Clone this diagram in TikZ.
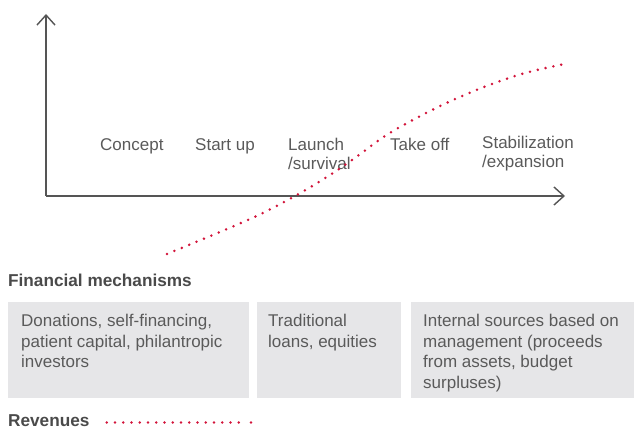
\documentclass[tikz,border=0pt]{standalone}
\usepackage{fontspec}
\setmainfont{Liberation Sans}
\usepackage{xcolor}
\usepackage{tikz}
\usetikzlibrary{arrows.meta,positioning,calc}
\definecolor{axisgray}{HTML}{555555}
\definecolor{textgray}{HTML}{5A5A5A}
\definecolor{headgray}{HTML}{4A4A4A}
\definecolor{panelfill}{HTML}{E6E6E8}
\definecolor{revred}{HTML}{D2143A}

\begin{document}
\begin{tikzpicture}[
    x=1pt, y=-1pt,
    axis/.style={draw=axisgray, line width=1.4pt, -{Straight Barb[length=10pt,width=18pt]}},
    stage/.style={inner sep=0pt, text=textgray, align=left, font=\fontsize{17}{19}\selectfont},
    heading/.style={inner sep=0pt, text=headgray, font=\fontsize{17.2}{20}\selectfont\bfseries},
    panel/.style={rectangle, fill=panelfill, inner sep=0pt, minimum height=96pt, anchor=north west},
    paneltext/.style={inner sep=0pt, text=textgray, align=left, anchor=north west, font=\fontsize{17}{20.7}\selectfont},
    revenue/.style={draw=revred, line width=2.8pt, line cap=round, dash pattern=on 0pt off 8pt}
]
\useasboundingbox (0,0) rectangle (635,430);

% Axes
\coordinate (origin) at (46,196);
\coordinate (ytip) at (46,14);
\coordinate (xtip) at (565,196);
\draw[axis] (origin) -- (ytip);
\draw[axis] (origin) -- (xtip);

% Stages
\node[stage, anchor=base west] (concept) at (100,150.5) {Concept};
\node[stage, anchor=base west] (startup) at (195,150.5) {Start up};
\node[stage, anchor=north west] (launch) at (288,138) {Launch\\/survival};
\node[stage, anchor=base west] (takeoff) at (390,150.5) {Take off};
\node[stage, anchor=north west] (stabil) at (482,136) {Stabilization\\/expansion};

% Revenue curve
\draw[revenue] plot[smooth, tension=0.6] coordinates {(167,254) (250,219) (295,196) (330,175) (359,155) (393,131) (453,100) (515,76) (567,63.5)};

% Financial mechanisms
\node[heading, anchor=base west] (finmech) at (8,286.7) {Financial mechanisms};
\node[panel, minimum width=241pt] (donations) at (8,302) {};
\node[panel, minimum width=144pt] (loans) at (257,302) {};
\node[panel, minimum width=223pt] (internal) at (411,302) {};
\node[paneltext] (donationstext) at ([shift={(13,12)}]donations.north west) {Donations, self-financing,\\patient capital, philantropic\\investors};
\node[paneltext] (loanstext) at ([shift={(11,12)}]loans.north west) {Traditional\\loans, equities};
\node[paneltext] (internaltext) at ([shift={(12,12)}]internal.north west) {Internal sources based on\\management (proceeds\\from assets, budget\\surpluses)};

% Legend
\node[heading, anchor=base west] (revenues) at (8,426.7) {Revenues};
\coordinate (legstart) at (106.7,422.5);
\coordinate (legmid) at (238.8,422.5);
\coordinate (legend) at (251,422.5);
\draw[revenue, dash pattern=on 0pt off 8.25pt] (legstart) -- (legmid);
\draw[revenue] (legend) -- +(0,0);

\end{tikzpicture}
\end{document}
